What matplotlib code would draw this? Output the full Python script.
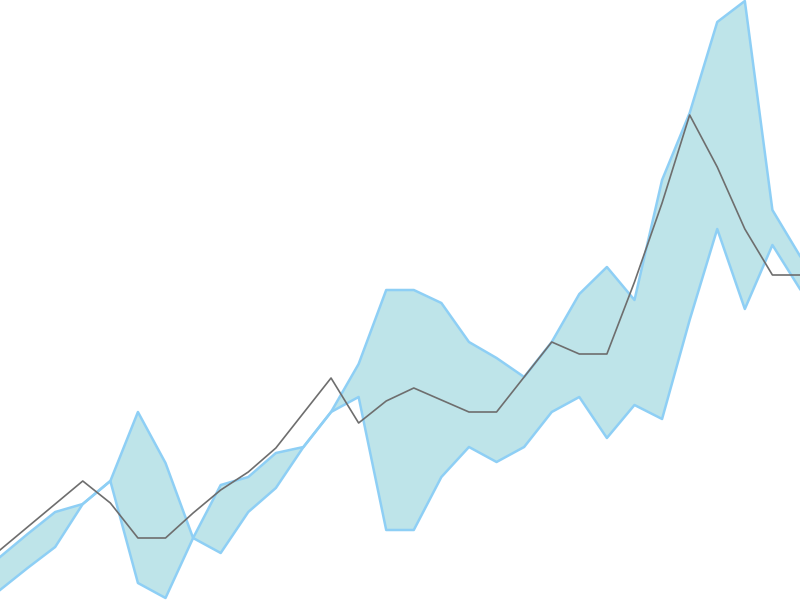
import numpy as np
import matplotlib
matplotlib.use("Agg")
import matplotlib.pyplot as plt

# band bounds (two edges of the shaded range) and the mean line
x = np.arange(30)
high = [43, 66, 88, 96, 119, 188, 137, 62, 115, 123, 147, 153, 188, 236, 310,
        310, 297, 258, 242, 223, 258, 306, 333, 300, 420, 487, 578, 599, 390, 344]
low = [10, 32, 53, 96, 119, 17, 2, 62, 47, 88, 112, 153, 188, 203, 70,
       70, 123, 153, 138, 153, 188, 203, 162, 195, 181, 280, 371, 291, 355, 311]
mean = [50, 73, 96, 119, 97, 62, 62, 87, 110, 128, 152, 187, 222, 177, 199,
        212, 200, 188, 188, 223, 258, 246, 246, 318, 397, 485, 433, 371, 325, 325]

fig = plt.figure(figsize=(8, 6), dpi=100)
ax = fig.add_axes([0, 0, 1, 1])
ax.fill_between(x, high, low, color='#bee4e9', linewidth=0)
ax.plot(x, high, color='#8ecff5', linewidth=1.8)
ax.plot(x, low, color='#8ecff5', linewidth=1.8)
ax.plot(x, mean, color='#6e6e6e', linewidth=1.2)
ax.set_xlim(0, 29)
ax.set_ylim(0, 600)
ax.axis('off')
fig.savefig('out.png', dpi=100)
